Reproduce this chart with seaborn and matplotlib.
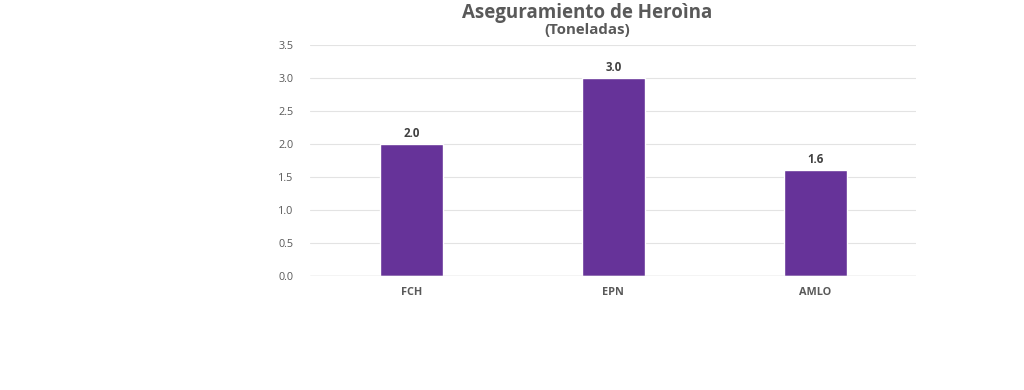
import matplotlib
matplotlib.use('Agg')
import matplotlib.pyplot as plt
import seaborn as sns
import pandas as pd

# data
periodos = ['FCH', 'EPN', 'AMLO']
toneladas = [2.0, 3.0, 1.6]
yticks = [0.0, 0.5, 1.0, 1.5, 2.0, 2.5, 3.0, 3.5]

sns.set_style('white')
plt.rcParams['font.family'] = ['Open Sans', 'DejaVu Sans']

df = pd.DataFrame({'periodo': periodos, 'toneladas': toneladas})

fig = plt.figure(figsize=(10.24, 3.9), dpi=100)
ax = fig.add_axes([0.303, 0.292, 0.592, 0.593])

sns.barplot(data=df, x='periodo', y='toneladas', color='#663399',
            saturation=1, width=0.31, ax=ax)

ax.set_ylim(0, 3.5)
ax.set_xlim(-0.5, 2.5)
ax.set_yticks(yticks)
ax.set_yticklabels(['{:.1f}'.format(t) for t in yticks])
ax.yaxis.grid(True, color='#e3e3e3', linewidth=0.8)
ax.set_axisbelow(True)
for s in ax.spines.values():
    s.set_visible(False)
ax.axhline(0, color='#d0d0d0', linewidth=1)
ax.tick_params(axis='both', length=0, colors='#595959', labelsize=7.8)
ax.tick_params(axis='y', pad=12)
ax.tick_params(axis='x', pad=8)
for lbl in ax.get_xticklabels():
    lbl.set_fontweight('bold')
ax.set_xlabel('')
ax.set_ylabel('')

for c in ax.containers:
    ax.bar_label(c, fmt='%.1f', padding=3, fontsize=8.3, fontweight='bold',
                 color='#404040')

fig.text(0.573, 0.966, 'Aseguramiento de Heroìna', ha='center', va='center',
         fontsize=13.5, fontweight='bold', color='#595959')
fig.text(0.5735, 0.922, '(Toneladas)', ha='center', va='center',
         fontsize=10.8, fontweight='bold', color='#595959')

fig.savefig('out.png', dpi=100)
